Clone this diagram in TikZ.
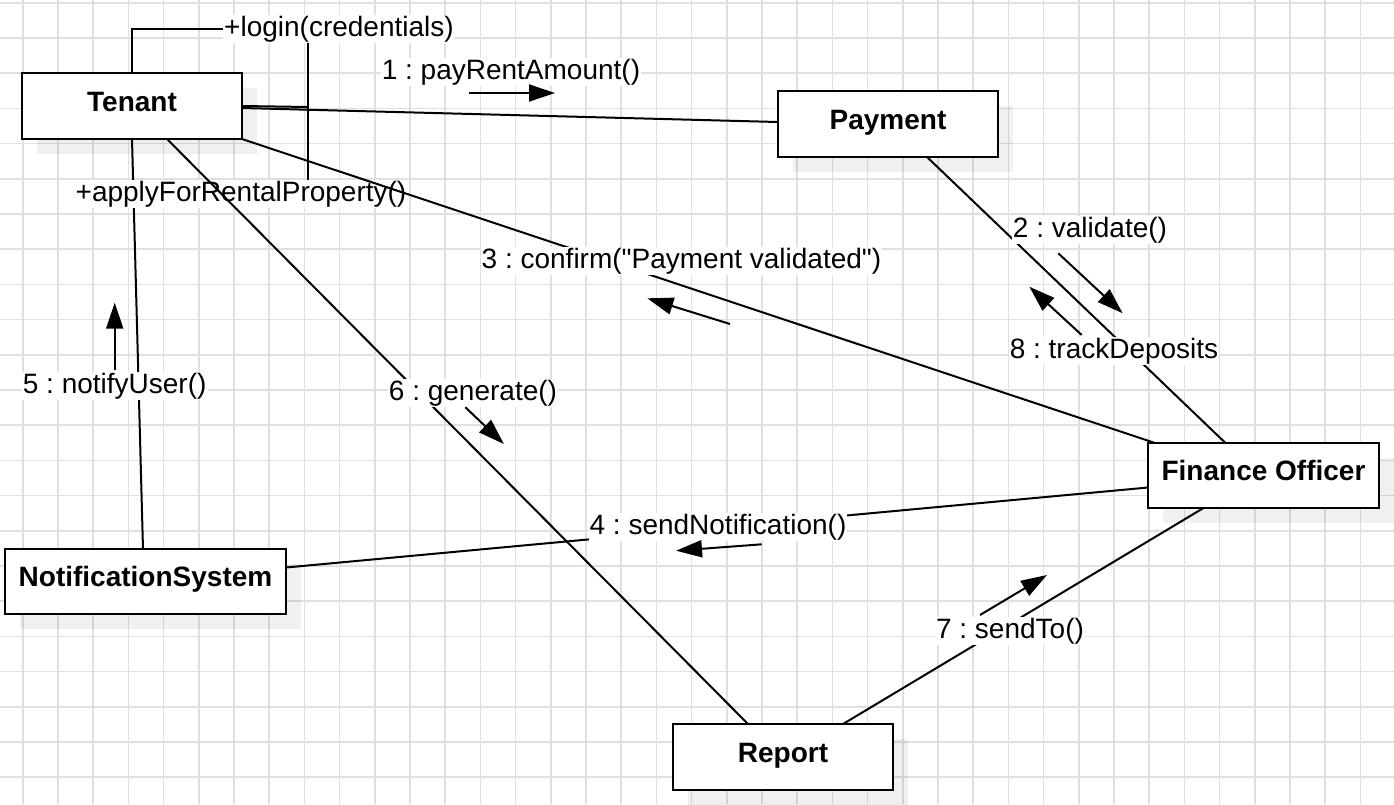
\documentclass[tikz,border=0pt]{standalone}
\usepackage{fontspec}
\setmainfont{Liberation Sans}[Ligatures=TeXOff]
\frenchspacing
\usetikzlibrary{arrows.meta,shadows,calc}
\begin{document}
\begin{tikzpicture}[x=1pt,y=-1pt,
  obj/.style={draw=black, line width=2.6pt, fill=white, minimum width=220pt, minimum height=66pt,
    inner sep=0pt, outer sep=0pt, font=\fontsize{28pt}{34pt}\selectfont\bfseries,
    text height=20pt, text depth=10pt,
    drop shadow={shadow xshift=15pt, shadow yshift=-15pt, fill=black, opacity=0.06}},
  lbl/.style={fill=white, inner sep=1pt, font=\fontsize{28pt}{34pt}\selectfont},
  conn/.style={line width=2pt},
  msg/.style={line width=2pt, -{Triangle[length=26pt,width=17pt]}},
  gridline/.style={black!12, line width=1.6pt}]
% background and grid
\fill[white] (0,0) rectangle (1394,804);
\useasboundingbox (0,0) rectangle (1394,804);
\foreach \i in {0,...,38} \draw[gridline] (22.7+35.2*\i,0) -- (22.7+35.2*\i,804);
\foreach \j in {0,...,22} \draw[gridline] (0,2.7+35.2*\j) -- (1394,2.7+35.2*\j);
% objects
\node[obj] (tenant) at (132,106) {Tenant};
\node[obj] (payment) at (888,124) {Payment};
\node[obj, minimum width=231pt, minimum height=65pt] (finance) at (1263.5,475.5) {Finance Officer};
\node[obj, minimum width=281pt, minimum height=65pt] (notif) at (145.5,581.5) {NotificationSystem};
\node[obj] (report) at (783,757) {Report};
% tenant - notification system
\draw[conn] (tenant.south) -- ([xshift=-2.5pt]notif.north);
% self link of tenant
\node[lbl] (login) at (339,29) {+login(credentials)};
\node[lbl] (apply) at (241,194) {+applyForRentalProperty()};
\coordinate (loopR) at (308,107);
\draw[conn] (tenant.north) |- (login.west);
\draw[conn] (login.south -| loopR) -- (apply.north -| loopR);
\draw[conn] (tenant.east) -- (loopR);
% other links
\draw[conn] ([yshift=-2pt]tenant.east) -- ([yshift=2pt]payment.west);
\draw[conn] (tenant.south east) -- ([xshift=7pt]finance.north west);
\draw[conn] ([xshift=39pt]payment.south) -- ([xshift=-38pt]finance.north);
\draw[conn] ([xshift=35pt]tenant.south) -- ([xshift=-35pt]report.north);
\draw[conn] ([yshift=-12pt]finance.west) -- ([yshift=14pt]notif.east);
\draw[conn] ([xshift=-60pt]finance.south) -- ([xshift=60pt]report.north);
% message labels
\node[lbl] (m1) at (511,72) {1 : payRentAmount()};
\node[lbl] (m2) at (1090,230) {2 : validate()};
\node[lbl] (m3) at (681.5,261) {3 : confirm("Payment validated")};
\node[lbl] (m4) at (718,527) {4 : sendNotification()};
\node[lbl] (m5) at (114.7,386) {5 : notifyUser()};
\node[lbl] (m6) at (473,393) {6 : generate()};
\node[lbl] (m7) at (1010,631) {7 : sendTo()};
\node[lbl] (m8) at (1114,351) {8 : trackDeposits};
% message arrows
\coordinate (a1s) at (469,93);     \coordinate (a1e) at (555,93);
\coordinate (a2s) at (1058.3,253.3); \coordinate (a2e) at (1122.7,313.3);
\coordinate (a3s) at (730,324);    \coordinate (a3e) at (647.3,298.3);
\coordinate (a4s) at (761.7,544.3); \coordinate (a4e) at (676,550.7);
\coordinate (a5s) at (114.7,370);  \coordinate (a5e) at (114.7,302.7);
\coordinate (a6s) at (465.4,407.3); \coordinate (a6e) at (503.9,444);
\coordinate (a7s) at (980,615);    \coordinate (a7e) at (1047,575);
\coordinate (a8s) at (1081.7,335); \coordinate (a8e) at (1029.3,286.7);
\draw[msg] (a1s) -- (a1e);
\draw[msg] (a2s) -- (a2e);
\draw[msg] (a3s) -- (a3e);
\draw[msg] (a4s) -- (a4e);
\draw[msg] (a5s) -- (a5e);
\draw[msg] (a6s) -- (a6e);
\draw[msg] (a7s) -- (a7e);
\draw[msg] (a8s) -- (a8e);
\end{tikzpicture}
\end{document}
